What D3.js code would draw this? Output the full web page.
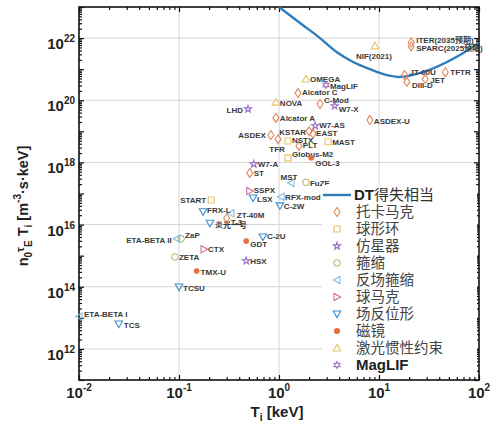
<!DOCTYPE html>
<html>
<head>
<meta charset="utf-8">
<script src="https://cdn.jsdelivr.net/npm/d3@7"></script>
<style>
body { margin: 0; background: #fff; }
</style>
</head>
<body>
<svg id="canvas"></svg>
<script>
var w = 492;
var h = 435;

// [name, Ti (keV), n0 tauE Ti (m^-3 s keV)]
var tokamak = [
  ['ITER(2035预期)', 21, 7.2e21], ['SPARC(2025预期)', 21, 5.4e21],
  ['TFTR', 46, 8e20], ['JT-60U', 18, 6.5e20], ['JET', 29, 4.8e20],
  ['DIII-D', 19, 3.9e20], ['Alcator C', 1.55, 1.7e20], ['C-Mod', 2.57, 7.6e19],
  ['Alcator A', 0.93, 2.7e19], ['ASDEX-U', 8.1, 2.3e19], ['ASDEX', 0.83, 7.6e18],
  ['KSTAR', 2.0, 1.0e19], ['EAST', 2.19, 8.3e18], ['TFR', 0.98, 5.6e18],
  ['PLT', 1.58, 3.4e18], ['ST', 0.51, 4.6e17], ['T-3', 0.30, 1.6e16]
];
var sphericalTorus = [
  ['START', 0.21, 6.2e16], ['NSTX', 1.23, 4.9e18], ['MAST', 3.1, 4.6e18],
  ['Globus-M2', 1.23, 1.4e18]
];
var stellarator = [
  ['LHD', 0.49, 5.2e19], ['W7-X', 3.6, 6.6e19], ['W7-AS', 2.3, 1.5e19],
  ['W7-A', 0.56, 8.9e17], ['HSX', 0.47, 6.8e14]
];
var pinch = [
  ['FuZE', 1.86, 2.3e17], ['ZETA', 0.091, 9.1e14], ['ZaP', 0.105, 3.5e15]
];
var rfp = [
  ['MST', 1.32, 2.2e17], ['RFX-mod', 1.05, 7.8e16], ['ETA-BETA II', 0.095, 3.5e15],
  ['ETA-BETA I', 0.01, 1.1e13], ['ZT-40M', 0.33, 2.3e16]
];
var spheromak = [
  ['SSPX', 0.51, 1.2e17], ['CTX', 0.178, 1.6e15]
];
var frc = [
  ['LSX', 0.55, 7.2e16], ['C-2W', 1.02, 4e16], ['FRX-L', 0.174, 2.6e16],
  ['炎光一号', 0.204, 1.1e16], ['C-2U', 0.69, 4e15], ['TCSU', 0.1, 9.8e13],
  ['TCS', 0.025, 6.3e12]
];
var mirror = [
  ['GDT', 0.47, 2.95e15], ['TMX-U', 0.15, 3.2e14], ['GOL-3', 2.1, 1.4e18]
];
var icf = [
  ['NIF(2021)', 9.1, 5.6e21], ['OMEGA', 1.86, 4.8e20], ['NOVA', 0.93, 8.7e19]
];
var maglif = [
  ['MagLIF', 2.95, 3.1e20]
];

// DT breakeven curve
var dtT   = [1.0, 1.74, 2.57, 3.8, 5.5, 8.1, 12, 16, 27.5, 60, 100];
var dtVal = [1e23, 2.6e22, 1e22, 3.5e21, 1.7e21, 1e21, 6.4e20, 5.6e20, 8e20, 2.5e21, 7e21];

var legendLabels = ['托卡马克', '球形环', '仿星器', '箍缩', '反场箍缩', '球马克',
                    '场反位形', '磁镜', '激光惯性约束', 'MagLIF'];
var xTickExp = [-2, -1, 0, 1, 2];
var yTickExp = [12, 14, 16, 18, 20, 22];

// series -> marker style, same order as legend
var groups = [
  {data: tokamak, shape: 'diamond', color: '#e08a5e'},
  {data: sphericalTorus, shape: 'square', color: '#e9c266'},
  {data: stellarator, shape: 'star', color: '#9d6cc8'},
  {data: pinch, shape: 'circle', color: '#b9ba74'},
  {data: rfp, shape: 'left', color: '#82bddc'},
  {data: spheromak, shape: 'right', color: '#d46a94'},
  {data: frc, shape: 'down', color: '#3f8fce'},
  {data: mirror, shape: 'dot', color: '#e4703e'},
  {data: icf, shape: 'up', color: '#e8c56a'},
  {data: maglif, shape: 'hex', color: '#a26fc6'}
];

// label placement: [dx, dy, anchor]
var labelPos = {
  'ITER(2035预期)': [5, -2], 'SPARC(2025预期)': [5, 2], 'NIF(2021)': [-1, 10, 'middle'],
  'TFTR': [5, 0], 'JT-60U': [5, -3], 'DIII-D': [5, 3], 'JET': [5, 1],
  'OMEGA': [4, 0], 'MagLIF': [4, 1], 'Alcator C': [4, -1], 'NOVA': [4, 1],
  'C-Mod': [4, -4], 'W7-X': [4, 3], 'LHD': [-5, 1, 'end'], 'Alcator A': [4, 0],
  'ASDEX-U': [4, 1], 'W7-AS': [4, -1], 'ASDEX': [-5, 0, 'end'], 'KSTAR': [-3, 1, 'end'],
  'EAST': [3, -1], 'TFR': [-1, 10, 'middle'], 'NSTX': [4, -1], 'PLT': [4, -1],
  'MAST': [4, 0], 'Globus-M2': [4, -4], 'GOL-3': [4, 5], 'W7-A': [4, 0], 'ST': [4, 0],
  'MST': [-2, -6, 'middle'], 'FuZE': [4, 1], 'SSPX': [4, -1], 'LSX': [4, 1],
  'RFX-mod': [4, 0], 'C-2W': [4, 0], 'START': [-5, 0, 'end'], 'FRX-L': [4, -1],
  'ZT-40M': [6, 2], 'T-3': [4, 4], '炎光一号': [5, 2], 'ETA-BETA II': [-5, 1, 'end'],
  'ZaP': [4, -4], 'CTX': [4, 0], 'C-2U': [4, -1], 'GDT': [4, 3], 'ZETA': [4, 0],
  'HSX': [4, 0], 'TMX-U': [4, 1], 'TCSU': [4, 1], 'ETA-BETA I': [5, -2], 'TCS': [5, 1]
};

function hexagram(){
  var pts = [];
  for (var i = 0; i < 12; i++){
    var r = (i % 2) ? 1.8 : 3.4;
    var a = (i * 30 - 90) * Math.PI / 180;
    pts.push([r * Math.cos(a), r * Math.sin(a)]);
  }
  return 'M' + pts.map(p => p[0].toFixed(2) + ',' + p[1].toFixed(2)).join('L') + 'Z';
}
var shapes = {
  diamond: 'M0,-4.5L3,0L0,4.5L-3,0Z',
  square: 'M-3,-3H3V3H-3Z',
  star: d3.symbol(d3.symbolStar, 16)(),
  circle: d3.symbol(d3.symbolCircle, 32)(),
  left: 'M-3.6,0L3,-3.6L3,3.6Z',
  right: 'M3.6,0L-3,-3.6L-3,3.6Z',
  down: 'M-3.8,-3L3.8,-3L0,3.6Z',
  up: 'M-3.8,3L3.8,3L0,-3.6Z',
  hex: hexagram(),
  dot: d3.symbol(d3.symbolCircle, 20)()
};

var x = d3.scaleLog().domain([0.01, 100]).range([79, 479]);
var y = d3.scaleLog().domain([1e11, 1e23]).range([380, 7]);

var svg = d3.select('#canvas')
  .attr('width', w)
  .attr('height', h)
  .attr('viewBox', [0, 0, w, h])
  .style('font-family', '"Liberation Sans", Arial, sans-serif');

svg.append('defs').append('clipPath').attr('id', 'clip')
  .append('rect').attr('x', 79).attr('y', 7).attr('width', 400).attr('height', 373);

// gridlines
var grid = svg.append('g').attr('stroke', '#d4d4d4').attr('stroke-width', 1);
[0.1, 1, 10].forEach(v => {
  grid.append('line').attr('x1', x(v)).attr('x2', x(v)).attr('y1', 7).attr('y2', 380);
});
yTickExp.forEach(e => {
  grid.append('line').attr('x1', 79).attr('x2', 479)
    .attr('y1', y(Math.pow(10, e))).attr('y2', y(Math.pow(10, e)));
});

// ticks (inward, all four sides)
var xMajor = [0.01, 0.1, 1, 10, 100];
var xMinor = [];
for (var d = -2; d < 2; d++) for (var k = 2; k < 10; k++) xMinor.push(k * Math.pow(10, d));
var yMajor = d3.range(11, 24).map(e => Math.pow(10, e));
var yMinor = [];
for (var e = 11; e < 23; e++) for (var k = 2; k < 10; k++) yMinor.push(k * Math.pow(10, e));

function tickAxis(gen, vals, size, tx){
  var g = svg.append('g').attr('transform', tx)
    .call(gen.tickValues(vals).tickSize(size).tickSizeOuter(0).tickFormat(''));
  g.select('.domain').remove();
  g.selectAll('line').attr('stroke', '#111').attr('stroke-width', 1.2);
}
tickAxis(d3.axisBottom(x), xMajor, -5, 'translate(0,380)');
tickAxis(d3.axisBottom(x), xMinor, -3, 'translate(0,380)');
tickAxis(d3.axisTop(x), xMajor, -5, 'translate(0,7)');
tickAxis(d3.axisTop(x), xMinor, -3, 'translate(0,7)');
tickAxis(d3.axisLeft(y), yMajor, -5, 'translate(79,0)');
tickAxis(d3.axisLeft(y), yMinor, -3, 'translate(79,0)');
tickAxis(d3.axisRight(y), yMajor, -5, 'translate(479,0)');
tickAxis(d3.axisRight(y), yMinor, -3, 'translate(479,0)');

// frame
svg.append('rect').attr('x', 79).attr('y', 7).attr('width', 400).attr('height', 373)
  .attr('fill', 'none').attr('stroke', '#111').attr('stroke-width', 1.6);

// tick labels
xTickExp.forEach(ex => {
  var t = svg.append('text').attr('x', x(Math.pow(10, ex))).attr('y', 398)
    .attr('text-anchor', 'middle').attr('font-size', 15).attr('font-weight', 'bold').attr('fill', '#222');
  t.append('tspan').text('10');
  t.append('tspan').attr('dy', -7).attr('font-size', 10).text(ex);
});
yTickExp.forEach(ex => {
  var t = svg.append('text').attr('x', 75).attr('y', y(Math.pow(10, ex)) + 11)
    .attr('text-anchor', 'end').attr('font-size', 15).attr('font-weight', 'bold').attr('fill', '#222');
  t.append('tspan').text('10');
  t.append('tspan').attr('dy', -7).attr('font-size', 10).text(ex);
});

// axis titles
var xt = svg.append('text').attr('x', 277).attr('y', 417).attr('text-anchor', 'middle')
  .attr('font-size', 15).attr('font-weight', 'bold').attr('fill', '#222');
xt.append('tspan').text('T');
xt.append('tspan').attr('dy', 4).attr('font-size', 10).text('i');
xt.append('tspan').attr('dy', -4).text(' [keV]');

var yt = svg.append('text').attr('transform', 'translate(28,206) rotate(-90)')
  .attr('text-anchor', 'middle').attr('font-size', 14.5).attr('font-weight', 'bold').attr('fill', '#222');
yt.append('tspan').text('n');
yt.append('tspan').attr('dy', 4).attr('font-size', 10).text('0');
yt.append('tspan').attr('dy', -8).attr('font-size', 11).text('τ');
yt.append('tspan').attr('dy', 8).attr('font-size', 10).text('E');
yt.append('tspan').attr('dy', -4).text(' T');
yt.append('tspan').attr('dy', 4).attr('font-size', 10).text('i');
yt.append('tspan').attr('dy', -4).text(' [m');
yt.append('tspan').attr('dy', -7).attr('font-size', 10).text('-3');
yt.append('tspan').attr('dy', 7).text('·s·keV]');

// DT breakeven curve
var curve = dtT.map((t, i) => [t, dtVal[i]]);
svg.append('path')
  .datum(curve)
  .attr('clip-path', 'url(#clip)')
  .attr('fill', 'none')
  .attr('stroke', '#2d7cbc')
  .attr('stroke-width', 2.4)
  .attr('d', d3.line().x(d => x(d[0])).y(d => y(d[1])).curve(d3.curveMonotoneX));

// points and labels
var pts = svg.append('g');
groups.forEach(gr => {
  var sel = pts.selectAll(null)
    .data(gr.data)
    .enter()
    .append('g')
    .attr('transform', d => 'translate(' + x(d[1]) + ',' + y(d[2]) + ')');
  sel.append('path')
    .attr('d', shapes[gr.shape])
    .attr('fill', gr.shape == 'dot' ? gr.color : 'none')
    .attr('stroke', gr.color)
    .attr('stroke-width', gr.shape == 'dot' ? 0.8 : 1.1);
  sel.append('text')
    .attr('x', d => (labelPos[d[0]] || [4, 0])[0])
    .attr('y', d => (labelPos[d[0]] || [4, 0])[1])
    .attr('dy', '0.35em')
    .attr('text-anchor', d => (labelPos[d[0]] || [])[2] || 'start')
    .attr('font-size', 8)
    .attr('font-weight', 'bold')
    .attr('fill', '#3a3a3a')
    .style('font-family', d => /[\u4e00-\u9fff]/.test(d[0])
        ? '"Liberation Sans", "Noto Sans CJK SC", sans-serif' : null)
    .text(d => d[0]);
});

// legend
var lg = svg.append('g');
lg.append('rect').attr('x', 322).attr('y', 185).attr('width', 155).attr('height', 190)
  .attr('fill', '#fff');
lg.append('line').attr('x1', 323).attr('x2', 351).attr('y1', 195).attr('y2', 195)
  .attr('stroke', '#2d7cbc').attr('stroke-width', 2.4);
var lt = lg.append('text').attr('x', 354).attr('y', 200).attr('font-size', 15).attr('fill', '#333');
lt.append('tspan').attr('font-weight', 'bold').attr('fill', '#222').text('DT');
lt.append('tspan').style('font-family', '"Noto Sans CJK SC", sans-serif').text('得失相当');
groups.forEach((gr, i) => {
  var yy = 212 + i * 17;
  lg.append('path').attr('transform', 'translate(337,' + yy + ')')
    .attr('d', shapes[gr.shape])
    .attr('fill', gr.shape == 'dot' ? gr.color : 'none')
    .attr('stroke', gr.color).attr('stroke-width', 1.1);
  var isLatin = /^[A-Za-z]/.test(legendLabels[i]);
  lg.append('text').attr('x', 356).attr('y', yy).attr('dy', '0.36em')
    .attr('font-size', isLatin ? 15 : 14.5)
    .attr('font-weight', isLatin ? 'bold' : null)
    .attr('fill', isLatin ? '#222' : '#444')
    .style('font-family', isLatin ? null : '"Noto Sans CJK SC", sans-serif')
    .text(legendLabels[i]);
});
</script>
</body>
</html>
